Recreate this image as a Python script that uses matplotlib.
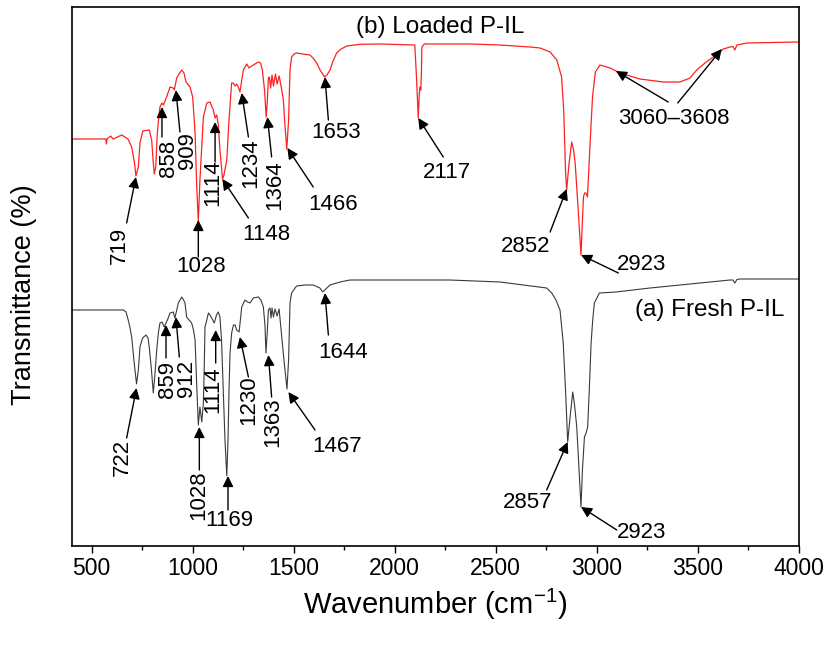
import matplotlib
matplotlib.use("Agg")
import matplotlib.pyplot as plt

plt.rcParams['font.family'] = ['Liberation Sans', 'DejaVu Sans']
plt.rcParams['mathtext.fontset'] = 'custom'
plt.rcParams['mathtext.rm'] = 'Liberation Sans'

# (b) Loaded P-IL spectrum (wavenumber, transmittance in arbitrary offset units)
loaded_w = [400, 402, 570, 573, 576, 594, 606, 649, 680, 698, 712, 719, 731, 739, 753, 785,
            797, 805, 810, 817, 825, 833, 838, 848, 855, 871, 888, 904, 909, 921, 929, 946,
            957, 967, 987, 1000, 1012, 1020, 1028, 1036, 1053, 1070, 1086, 1102, 1111, 1119,
            1127, 1135, 1148, 1155, 1169, 1180, 1193, 1201, 1210, 1218, 1226, 1234, 1243,
            1251, 1268, 1279, 1292, 1309, 1325, 1336, 1345, 1356, 1364, 1370, 1375, 1380,
            1386, 1393, 1400, 1410, 1418, 1428, 1437, 1449, 1457, 1466, 1475, 1482, 1490,
            1502, 1515, 1546, 1581, 1596, 1614, 1631, 1653, 1665, 1680, 1695, 1713, 1735,
            1763, 1829, 1928, 2100, 2104, 2109, 2113, 2117, 2122, 2125, 2130, 2133, 2135,
            2147, 2373, 2522, 2671, 2720, 2770, 2803, 2827, 2838, 2846, 2852, 2864, 2877,
            2886, 2894, 2906, 2923, 2929, 2935, 2941, 2947, 2955, 2967, 2980, 2994, 3017,
            3067, 3116, 3215, 3331, 3413, 3463, 3496, 3537, 3578, 3628, 3661, 3675, 3685,
            3695, 3744, 4000]
loaded_t = [388, 407, 407, 402, 407, 410, 407, 411, 407, 399, 383, 370, 379, 403, 415, 416,
            406, 383, 372, 379, 413, 431, 439, 443, 441, 449, 459, 458, 456, 468, 471, 476,
            473, 464, 459, 449, 413, 359, 325, 366, 429, 443, 444, 436, 428, 431,
            421, 396, 367, 371, 386, 426, 463, 463, 460, 462, 459, 454, 466,
            476, 482, 478, 480, 482, 484, 483, 476, 456, 429, 446, 468, 469,
            458, 471, 460, 472, 462, 470, 461, 446, 421, 397, 426, 476, 489,
            492, 493, 492, 491, 488, 483, 476, 469, 471, 476, 485, 493, 497,
            500, 501.7, 502, 501, 486, 466, 446, 428, 451, 459, 456, 476, 499,
            502, 502, 501, 499, 498, 494, 486, 469, 433, 376, 356, 383, 404,
            396, 383, 346, 291, 321, 349, 353, 353, 349, 399, 449, 474, 481,
            478, 473, 467, 464, 464, 468, 476, 483, 489, 497, 499, 499.5, 496,
            501, 503, 504]

# (a) Fresh P-IL spectrum
fresh_w = [400, 657, 670, 681, 690, 698, 709, 722, 731, 739, 752, 769, 779, 785, 796, 805,
           813, 822, 830, 838, 848, 859, 875, 888, 904, 912, 921, 929, 946, 955, 962, 970,
           982, 995, 1004, 1012, 1019, 1028, 1036, 1045, 1053, 1057, 1061, 1070, 1078,
           1086, 1094, 1107, 1118, 1127, 1135, 1143, 1150, 1160, 1169, 1175, 1180, 1185,
           1193, 1202, 1210, 1218, 1230, 1243, 1259, 1272, 1284, 1300, 1325, 1338, 1350,
           1358, 1363, 1370, 1375, 1383, 1388, 1393, 1400, 1408, 1418, 1428, 1441, 1452,
           1467, 1475, 1482, 1490, 1507, 1515, 1556, 1597, 1630, 1644, 1665, 1680, 1730,
           1779, 2027, 2274, 2522, 2753, 2778, 2799, 2819, 2835, 2847, 2857, 2869, 2882,
           2891, 2902, 2913, 2923, 2930, 2940, 2948, 2956, 2964, 2973, 2981, 2989, 3014,
           3096, 3265, 3512, 3661, 3675, 3685, 3695, 3710, 4000]
fresh_t = [236, 236, 234, 226, 218, 209, 186, 162, 176, 199, 208, 211, 208, 199, 176, 153,
           171, 196, 213, 223, 224, 219, 226, 233, 234, 228, 236, 243, 249, 246, 243, 229,
           226, 223, 216, 206, 166, 121, 139, 124, 143, 176, 219, 226, 233,
           231, 228, 223, 231, 234, 229, 206, 166, 106, 70, 106, 156, 193,
           213, 221, 221, 216, 214, 239, 246, 244, 243, 248, 249, 246, 239,
           221, 193, 216, 236, 238, 228, 238, 229, 237, 230, 237, 209, 186,
           157, 186, 243, 253, 258, 260, 261, 261, 258, 254, 258, 261, 264,
           266, 266, 266, 264, 258, 253, 246, 236, 203, 153, 104, 129, 154,
           141, 119, 76, 39, 76, 109, 113, 119, 156, 203, 226, 243, 253,
           254, 258, 263, 266, 266, 263, 266.5, 267, 267]

series_labels = ["(b) Loaded P-IL", "(a) Fresh P-IL"]

# annotations: text, tip (w, T), tail (w, T), text centre (w, T), rotation
loaded_notes = [
    ("719", (719, 369), (673, 323), (635, 301), 90),
    ("858", (848, 439), (848, 409), (878, 388), 90),
    ("909", (917, 456), (937, 414), (972, 395), 90),
    ("1028", (1028, 326), (1028, 289), (1041, 280), 0),
    ("1114", (1111, 424), (1111, 384), (1101, 363), 90),
    ("1148", (1147, 367), (1276, 328), (1363, 312), 0),
    ("1234", (1243, 453), (1276, 409), (1289, 383), 90),
    ("1364", (1370, 429), (1391, 389), (1408, 361), 90),
    ("1466", (1469, 398), (1597, 359), (1695, 342), 0),
    ("1653", (1655, 469), (1672, 426), (1710, 414), 0),
    ("2117", (2117, 428), (2241, 389), (2259, 374), 0),
    ("2852", (2852, 357), (2770, 314), (2651, 300), 0),
    ("2923", (2923, 291), (3108, 273), (3225, 282), 0),
]
fresh_notes = [
    ("722", (722, 158), (673, 108), (650, 89), 90),
    ("859", (868, 221), (868, 188), (873, 166), 90),
    ("912", (917, 229), (934, 189), (967, 168), 90),
    ("1114", (1114, 216), (1114, 183), (1101, 156), 90),
    ("1028", (1033, 119), (1033, 76), (1031, 51), 90),
    ("1169", (1175, 70), (1175, 36), (1180, 25), 0),
    ("1230", (1234, 209), (1276, 169), (1279, 146), 90),
    ("1363", (1375, 191), (1391, 149), (1398, 124), 90),
    ("1467", (1474, 154), (1606, 116), (1715, 99), 0),
    ("1644", (1655, 253), (1672, 211), (1745, 194), 0),
    ("2857", (2857, 104), (2753, 56), (2661, 44), 0),
    ("2923", (2923, 39), (3100, 16), (3225, 14), 0),
]

fig = plt.figure(figsize=(8.35, 6.5), dpi=100)
ax = fig.add_axes([71.5 / 835, 104 / 650, 727 / 835, 539 / 650])

ax.plot(loaded_w, loaded_t, color='#ff2020', lw=0.9)
ax.plot(fresh_w, fresh_t, color='#3a3a3a', lw=0.8)

ax.set_xlim(400, 4000)
ax.set_ylim(0, 539)
ax.set_yticks([])
ax.set_xticks(range(500, 4001, 500))
ax.set_xticks(range(750, 4000, 500), minor=True)
ax.tick_params(axis='x', which='major', direction='out', length=5, width=1,
               labelsize=16.5, pad=3)
ax.tick_params(axis='x', which='minor', direction='out', length=3, width=1)
for s in ax.spines.values():
    s.set_linewidth(1.2)

ax.set_xlabel(r'Wavenumber (cm$^{\mathregular{-1}}$)', fontsize=21, labelpad=5)
ax.set_ylabel('Transmittance (%)', fontsize=19.5)
ax.yaxis.set_label_coords(-0.047, 0.466)

ap = dict(arrowstyle='-|>', color='black', lw=1, mutation_scale=16,
          shrinkA=0, shrinkB=0)
for notes in (loaded_notes, fresh_notes):
    for txt, tip, tail, pos, rot in notes:
        ax.annotate('', xy=tip, xytext=tail, arrowprops=ap)
        ax.text(pos[0], pos[1], txt, fontsize=16, rotation=rot,
                ha='center', va='center')

# range annotation with two arrows
ax.annotate('', xy=(3096, 475), xytext=(3355, 444), arrowprops=ap)
ax.annotate('', xy=(3620, 497), xytext=(3402, 443), arrowprops=ap)
ax.text(3383, 427, '3060\u20133608', fontsize=16, ha='center', va='center')

ax.text(2225, 519, series_labels[0], fontsize=17.5, ha='center', va='center')
ax.text(3562, 236, series_labels[1], fontsize=17.5, ha='center', va='center')

fig.savefig('out.png', dpi=100)
